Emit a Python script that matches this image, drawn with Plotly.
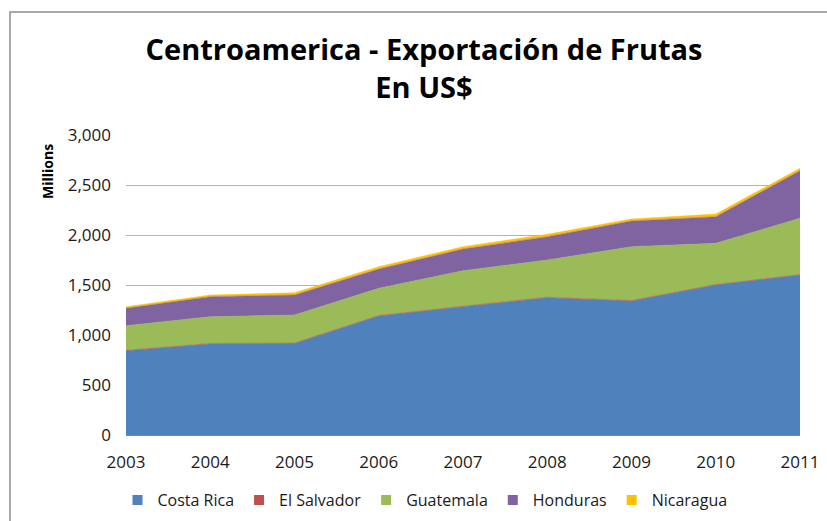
"""Stacked area chart: fruit exports of Central America (US$ millions)."""

import plotly.graph_objects as go

YEARS = [2003, 2004, 2005, 2006, 2007, 2008, 2009, 2010, 2011]

COSTA_RICA = [843, 910, 915, 1190, 1283, 1373, 1340, 1500, 1600]
EL_SALVADOR = [4, 5, 5, 5, 5, 5, 5, 5, 5]
GUATEMALA = [246, 268, 280, 272, 355, 372, 538, 412, 562]
HONDURAS = [174, 200, 200, 193, 217, 233, 257, 266, 476]
NICARAGUA = [15, 17, 22, 23, 23, 24, 20, 26, 24]

SERIES = [
    ("Costa Rica", COSTA_RICA, "#4F81BD"),
    ("El Salvador", EL_SALVADOR, "#C0504D"),
    ("Guatemala", GUATEMALA, "#9BBB59"),
    ("Honduras", HONDURAS, "#8064A2"),
    ("Nicaragua", NICARAGUA, "#FFC000"),
]

FONT = "Open Sans"

W, H = 827, 521
ML, MR, MT, MB = 126, 27, 135, 86
PW, PH = W - ML - MR, H - MT - MB

fig = go.Figure()
for name, values, color in SERIES:
    fig.add_trace(go.Scatter(
        x=YEARS,
        y=values,
        name=name,
        mode="lines",
        stackgroup="one",
        line=dict(width=0.5, color=color),
        fillcolor=color,
        showlegend=False,
    ))
    # legend-only entry with a square key, like the original
    fig.add_trace(go.Scatter(
        x=[None], y=[None],
        name=name,
        mode="markers",
        marker=dict(symbol="square", size=10, color=color),
    ))

fig.update_layout(
    width=W,
    height=H,
    margin=dict(l=ML, r=MR, t=MT, b=MB, autoexpand=False),
    paper_bgcolor="white",
    plot_bgcolor="white",
    font=dict(family=FONT, size=17, color="#1a1a1a"),
    title=dict(
        text="<b>Centroamerica - Exportación de Frutas<br>En US$</b>",
        x=424 / W,
        xref="container",
        xanchor="center",
        y=1 - 60 / H,
        yref="container",
        yanchor="middle",
        font=dict(family=FONT, size=29, color="black"),
    ),
    showlegend=True,
    legend=dict(
        orientation="h",
        x=(425 - ML) / PW,
        xanchor="center",
        y=(435 - 500) / PH,
        yanchor="middle",
        font=dict(family=FONT, size=16, color="#1a1a1a"),
        traceorder="normal",
        itemwidth=30,
    ),
    shapes=[
        dict(
            type="rect", xref="paper", yref="paper",
            x0=(10 - ML) / PW, x1=1.2, y0=-0.5, y1=1 + (MT - 12) / PH,
            line=dict(color="#8c8c8c", width=1.5),
            fillcolor="rgba(0,0,0,0)",
        ),
    ],
    annotations=[
        dict(
            text="<b>Millions</b>",
            xref="paper", yref="paper",
            x=(47 - ML) / PW, y=(435 - 172) / PH,
            xanchor="center", yanchor="middle",
            textangle=-90, showarrow=False,
            font=dict(family=FONT, size=14, color="black"),
        ),
    ],
)

fig.update_xaxes(
    range=[2003, 2011],
    tickvals=YEARS,
    ticktext=[str(y) for y in YEARS],
    showgrid=False,
    showline=True,
    linecolor="#868686",
    linewidth=1,
    ticks="",
    ticklabelstandoff=12,
    ticklabeloverflow="allow",
)
fig.update_yaxes(
    range=[0, 3000],
    tickvals=[0, 500, 1000, 1500, 2000, 2500, 3000],
    tickformat=",",
    showgrid=True,
    gridcolor="#b3b3b3",
    gridwidth=1,
    zeroline=False,
    showline=False,
    ticks="",
    ticklabelstandoff=14,
)

# drop the default 8px body margin so the figure sits at the page origin
fig.write_html(
    "out.html",
    config={"displayModeBar": False},
    post_script="document.body.style.margin='0';",
)
